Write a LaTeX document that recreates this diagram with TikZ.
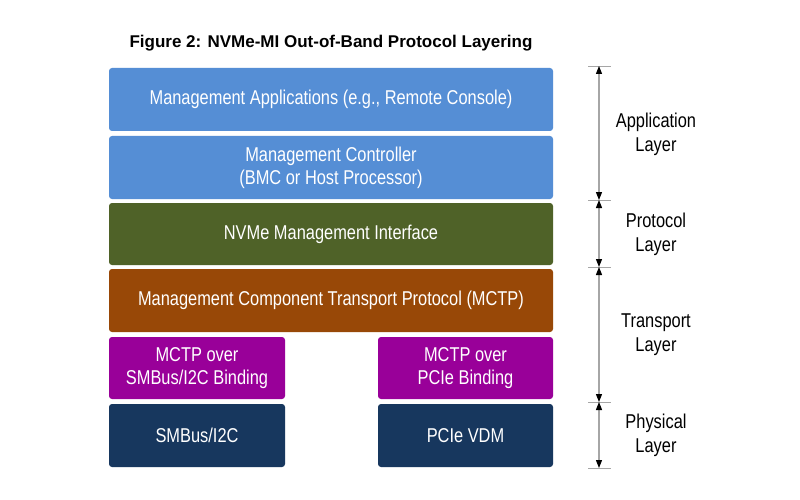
\documentclass[tikz,border=0pt]{standalone}
\usepackage{fontspec}
\setmainfont{Liberation Sans}
\newfontfamily\narrowfont[FakeStretch=0.82]{Liberation Sans}
\usetikzlibrary{arrows.meta}
\definecolor{cblue}{HTML}{558ED5}
\definecolor{cgreen}{HTML}{4F6228}
\definecolor{corange}{HTML}{984807}
\definecolor{cpurple}{HTML}{990099}
\definecolor{cnavy}{HTML}{17375E}
\definecolor{cline}{HTML}{A6A6A6}
\begin{document}
\begin{tikzpicture}[x=1pt,y=-1pt,
  layerbox/.style={rounded corners=3pt,draw=none,text=white,align=center,
    font=\narrowfont\fontsize{20}{23}\selectfont},
  sidelabel/.style={align=center,text=black,font=\narrowfont\fontsize{20}{24}\selectfont},
  tick/.style={draw=cline,line width=0.8pt},
  dim/.style={draw=cline,line width=1.2pt,{Triangle[color=black,length=8pt,width=6pt]}-{Triangle[color=black,length=8pt,width=6pt]}}]
\useasboundingbox (0,0) rectangle (800,500);
\fill[white] (0,0) rectangle (800,500);
\node[font=\bfseries\fontsize{17}{20}\selectfont] (title) at (331,43) {Figure 2: NVMe-MI Out-of-Band Protocol Layering};
% boxes
\path[layerbox,fill=cblue] (109,68) rectangle (553,131) node[midway] (app) {Management Applications (e.g., Remote Console)};
\path[layerbox,fill=cblue] (109,136) rectangle (553,199) node[midway] (mc) {Management Controller\\(BMC or Host Processor)};
\path[layerbox,fill=cgreen] (109,203) rectangle (553,265) node[midway] (nvme) {NVMe Management Interface};
\path[layerbox,fill=corange] (109,269) rectangle (553,332) node[midway] (mctp) {Management Component Transport Protocol (MCTP)};
\path[layerbox,fill=cpurple] (109,337) rectangle (285,399) node[midway] (bsmb) {MCTP over\\SMBus/I2C Binding};
\path[layerbox,fill=cpurple] (378,337) rectangle (553,399) node[midway] (bpcie) {MCTP over\\PCIe Binding};
\path[layerbox,fill=cnavy] (109,404) rectangle (285,467) node[midway] (smb) {SMBus/I2C};
\path[layerbox,fill=cnavy] (378,404) rectangle (553,467) node[midway] (pcie) {PCIe VDM};
% dimension axis
\coordinate (t0) at (599,66);
\coordinate (t1) at (599,200);
\coordinate (t2) at (599,267);
\coordinate (t3) at (599,402);
\coordinate (t4) at (599,468);
\foreach \t in {t0,t1,t2,t3,t4}{\draw[tick] ([xshift=-11pt]\t) -- ([xshift=12pt]\t);}
\draw[dim] (t0) -- (t1);
\draw[dim] (t1) -- (t2);
\draw[dim] (t2) -- (t3);
\draw[dim] (t3) -- (t4);
\node[sidelabel] (lapp) at (656,134) {Application\\Layer};
\node[sidelabel] (lprot) at (656,234) {Protocol\\Layer};
\node[sidelabel] (ltra) at (656,335) {Transport\\Layer};
\node[sidelabel] (lphy) at (656,435) {Physical\\Layer};
\end{tikzpicture}
\end{document}
